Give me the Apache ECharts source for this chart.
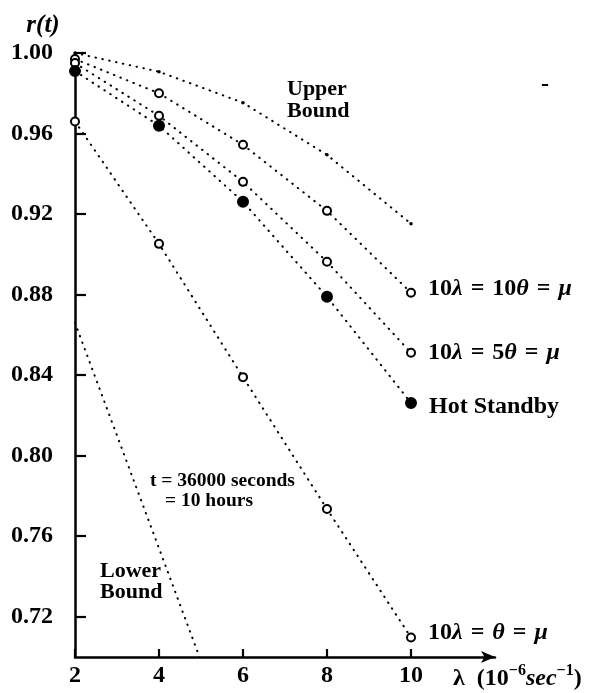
<!DOCTYPE html>
<html><head><meta charset="utf-8">
<script src="https://cdn.jsdelivr.net/npm/echarts@6/dist/echarts.min.js"></script>
<style>html,body{margin:0;padding:0;background:#fff}#c{width:599px;height:693px}</style>
</head><body><div id="c"></div>
<script>
// ---- data ----
const lambdaVals = [2, 4, 6, 8, 10];
const upperBound = [1.000, 0.9907, 0.9753, 0.9494, 0.9152];
const tenTheta   = [0.997, 0.980, 0.9544, 0.9216, 0.8809];
const fiveTheta  = [0.995, 0.9688, 0.9360, 0.8963, 0.8511];
const hotStandby = [0.991, 0.9639, 0.9261, 0.8789, 0.8262];
const equalTheta = [0.966, 0.9052, 0.839, 0.7735, 0.7097];
const lowerBoundX = [2, 4, 6];
const lowerBound  = [0.866, 0.754, 0.642];
const yTicks = [0.72, 0.76, 0.80, 0.84, 0.88, 0.92, 0.96, 1.00];
const xTicks = [2, 4, 6, 8, 10];
const seriesNames = ['10λ = 10θ = μ', '10λ = 5θ = μ', 'Hot Standby', '10λ = θ = μ'];

const FONT = '"Liberation Serif", "DejaVu Serif", serif';
const dotted = { color: '#000', width: 2, type: [0.5, 6.5], cap: 'round' };

function pairs(xs, ys) { return xs.map((x, i) => [x, ys[i]]); }

const SP = '\u2004';
const eqRich = {
  n: { fontFamily: FONT, fontWeight: 'bold', fontSize: 24, color: '#000' },
  h: { fontFamily: FONT, fontWeight: 'bold', fontSize: 24, color: '#000' },
  g: { fontFamily: FONT, fontWeight: 'bold', fontStyle: 'italic', fontSize: 24, color: '#000' }
};
const eqFormat = [
  '{n|10}{g|λ}{n|' + SP + '=' + SP + '10}{g|θ}{n|' + SP + '=' + SP + '}{g|μ}',
  '{n|10}{g|λ}{n|' + SP + '=' + SP + '5}{g|θ}{n|' + SP + '=' + SP + '}{g|μ}',
  '{h|Hot Standby}',
  '{n|10}{g|λ}{n|' + SP + '=' + SP + '}{g|θ}{n|' + SP + '=' + SP + '}{g|μ}'
];
const labelOffsets = [[0, -4], [0, 0], [0, 4], [0, -5]];

function dataSeries(idx, vals, symbol, size) {
  const data = pairs(lambdaVals, vals).map((p, i) => {
    const item = { value: p };
    if (i === vals.length - 1) {
      item.label = {
        show: true, position: 'right', distance: 12, offset: labelOffsets[idx],
        formatter: eqFormat[idx], rich: eqRich
      };
    }
    return item;
  });
  return {
    type: 'line', name: seriesNames[idx], data: data,
    symbol: symbol, symbolSize: size, showAllSymbol: true,
    lineStyle: dotted,
    itemStyle: { color: '#000', borderColor: '#000', borderWidth: 2 },
    z: 5, silent: true
  };
}

const chart = echarts.init(document.getElementById('c'), null, { renderer: 'canvas' });
chart.setOption({
  animation: false,
  backgroundColor: '#fff',
  grid: { left: 75, right: 104, top: 53, bottom: 36, containLabel: false },
  xAxis: {
    type: 'value', min: 2, max: 12,
    axisLine: { show: true, lineStyle: { color: '#000', width: 2.5 }, symbol: ['none', 'arrow'], symbolSize: [9, 14], symbolOffset: [0, 0] },
    axisTick: { show: true, inside: true, length: 8, lineStyle: { color: '#000', width: 2.2 }, customValues: xTicks },
    axisLabel: { show: true, customValues: xTicks, margin: 7, color: '#000', fontFamily: FONT, fontWeight: 'bold', fontSize: 24 },
    splitLine: { show: false }
  },
  yAxis: {
    type: 'value', min: 0.70, max: 1.00,
    axisLine: { show: true, lineStyle: { color: '#000', width: 2.5 } },
    axisTick: { show: true, inside: true, length: 11, lineStyle: { color: '#000', width: 2.2 }, customValues: yTicks },
    axisLabel: { show: true, customValues: yTicks, margin: 22, color: '#000', fontFamily: FONT, fontWeight: 'bold', fontSize: 24,
      formatter: v => v.toFixed(2) },
    splitLine: { show: false }
  },
  series: [
    {
      type: 'line', name: 'Upper Bound', data: pairs(lambdaVals, upperBound),
      symbol: 'circle', symbolSize: 3.5, lineStyle: dotted, itemStyle: { color: '#000' }, silent: true, z: 3
    },
    {
      type: 'line', name: 'Lower Bound', data: pairs(lowerBoundX, lowerBound),
      showSymbol: false, lineStyle: dotted, itemStyle: { color: '#000' }, silent: true, z: 3
    },
    dataSeries(0, tenTheta, 'emptyCircle', 8),
    dataSeries(1, fiveTheta, 'emptyCircle', 8),
    dataSeries(2, hotStandby, 'circle', 10),
    dataSeries(3, equalTheta, 'emptyCircle', 8)
  ],
  graphic: [
    { type: 'text', x: 43, y: 26, style: { text: 'r(t)', font: 'italic bold 25px ' + FONT, fill: '#000', align: 'center', verticalAlign: 'middle' } },
    { type: 'text', x: 453, y: 677, style: {
        text: '{n|λ\u2002(10}{s|−6}{i|sec}{s|−1}{n|)}', align: 'left', verticalAlign: 'middle',
        rich: {
          n: { fontFamily: FONT, fontSize: 24, fontWeight: 'bold', fill: '#000', lineHeight: 28, verticalAlign: 'bottom' },
          i: { fontFamily: FONT, fontSize: 24, fontWeight: 'bold', fontStyle: 'italic', fill: '#000', lineHeight: 28, verticalAlign: 'bottom' },
          s: { fontFamily: FONT, fontSize: 16, fontWeight: 'bold', fill: '#000', lineHeight: 28, verticalAlign: 'top' }
        } } },
    { type: 'text', x: 287, y: 78, style: { text: 'Upper\nBound', font: 'bold 22px ' + FONT, fill: '#000', align: 'left', verticalAlign: 'top', lineHeight: 22 } },
    { type: 'text', x: 100, y: 561, style: { text: 'Lower\nBound', font: 'bold 22px ' + FONT, fill: '#000', align: 'left', verticalAlign: 'top', lineHeight: 21 } },
    { type: 'text', x: 150, y: 481, style: { text: 't = 36000 seconds', font: 'bold 19.5px ' + FONT, fill: '#000', align: 'left', verticalAlign: 'middle' } },
    { type: 'text', x: 165, y: 501, style: { text: '= 10 hours', font: 'bold 19.5px ' + FONT, fill: '#000', align: 'left', verticalAlign: 'middle' } },
    { type: 'text', x: 545, y: 85, style: { text: '-', font: 'bold 24px ' + FONT, fill: '#000', align: 'center', verticalAlign: 'middle' } }
  ]
});
</script>
</body></html>
